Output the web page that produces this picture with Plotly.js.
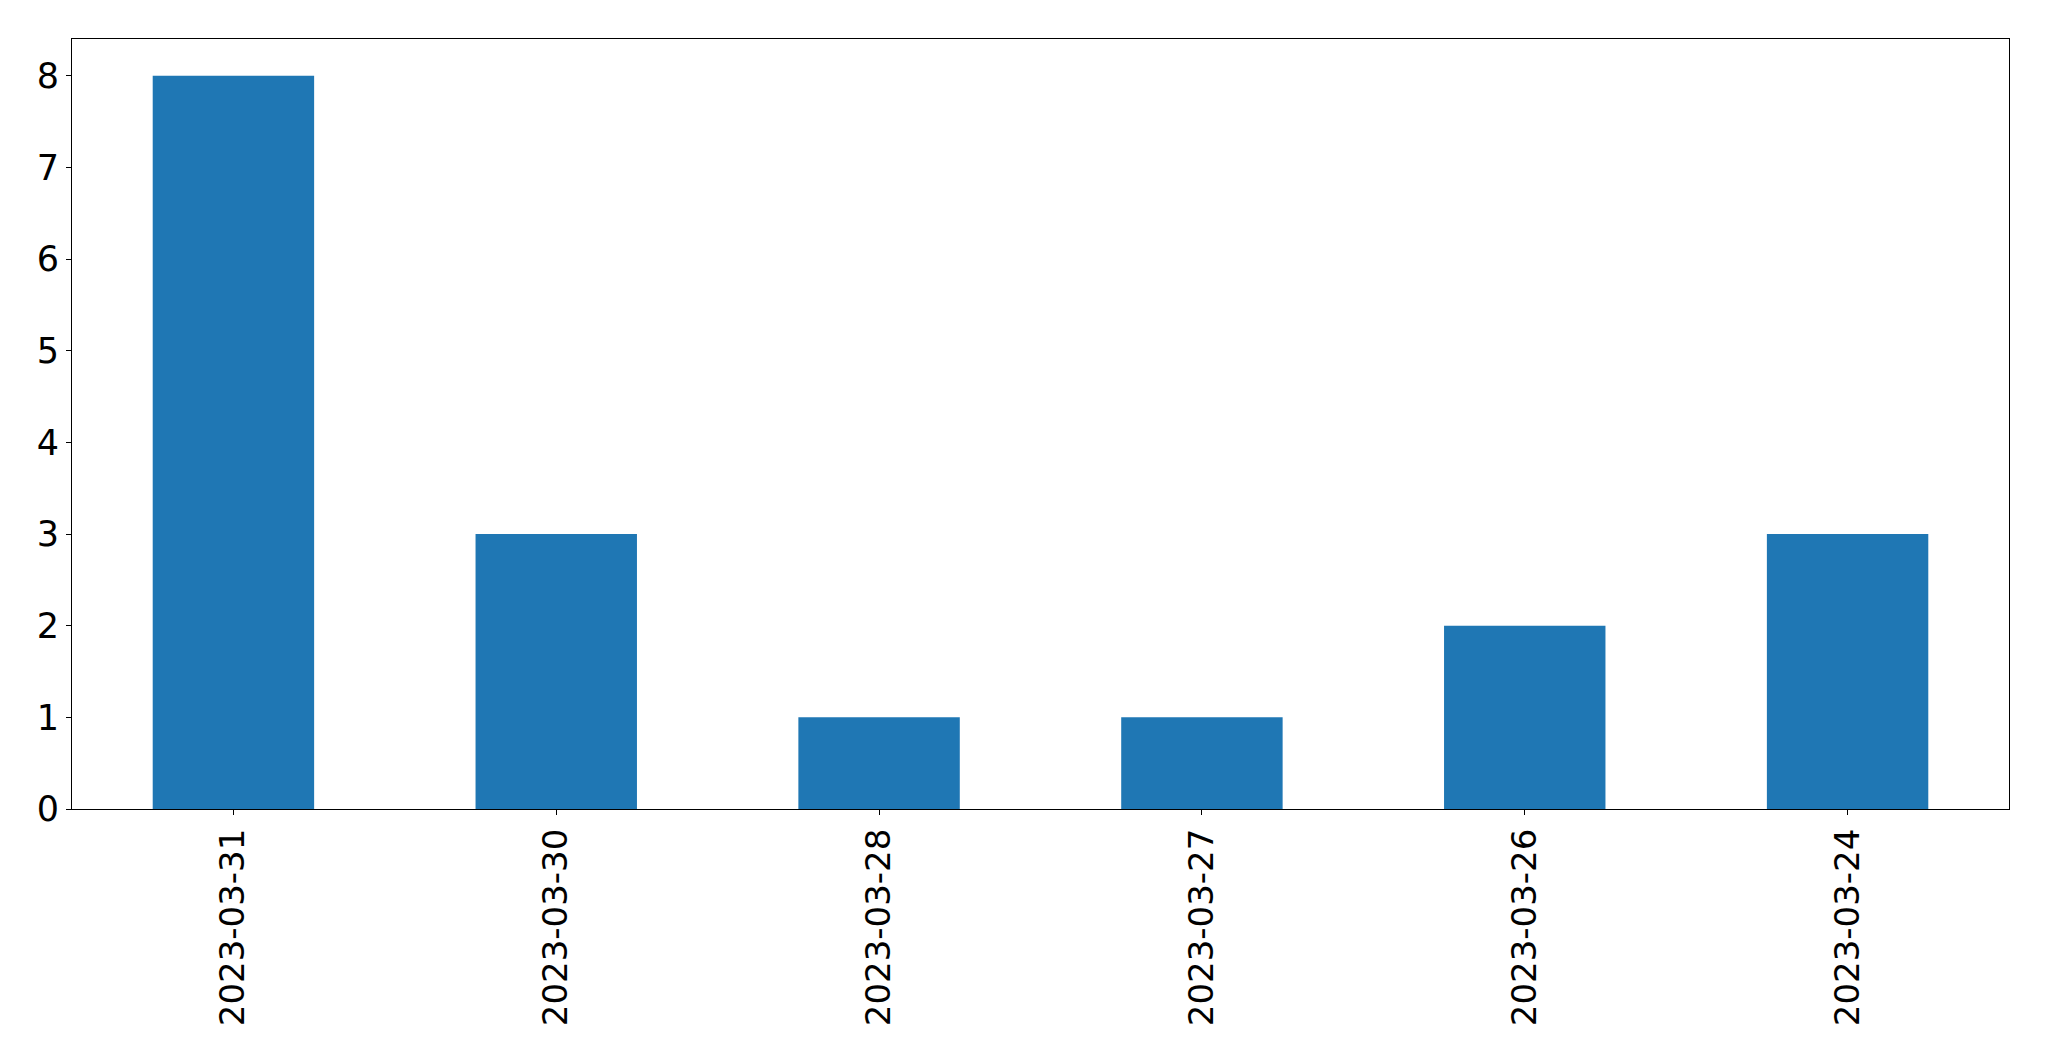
<!DOCTYPE html>
<html>
<head>
<meta charset="utf-8">
<script src="https://cdn.plot.ly/plotly-3.0.1.min.js"></script>
<style>html,body{margin:0;padding:0;background:#fff;}#chart{width:2049px;height:1061px;}</style>
</head>
<body>
<div id="chart"></div>
<script>
const dates = ["2023-03-31", "2023-03-30", "2023-03-28", "2023-03-27", "2023-03-26", "2023-03-24"];
const counts = [8, 3, 1, 1, 2, 3];
const yTicks = [0, 1, 2, 3, 4, 5, 6, 7, 8];

const trace = {
  type: 'bar',
  x: dates,
  y: counts,
  width: 0.5,
  marker: {color: '#1f77b4', line: {width: 0}},
  hoverinfo: 'x+y'
};

const layout = {
  width: 2049,
  height: 1061,
  margin: {l: 72, r: 40, t: 39, b: 252, pad: 0},
  paper_bgcolor: '#ffffff',
  plot_bgcolor: '#ffffff',
  showlegend: false,
  font: {family: 'DejaVu Sans', size: 34, color: '#000000'},
  xaxis: {
    type: 'category',
    range: [-0.5, 5.5],
    tickangle: -90,
    ticks: 'outside',
    ticklen: 5,
    tickwidth: 1.1,
    tickcolor: '#000',
    showline: true,
    linecolor: '#000',
    linewidth: 1.1,
    mirror: true,
    showgrid: false,
    zeroline: false,
    tickfont: {family: 'DejaVu Sans', size: 34, color: '#000'}
  },
  yaxis: {
    range: [0, 8.4],
    tickvals: yTicks,
    ticktext: yTicks.map(String),
    ticks: 'outside',
    ticklen: 5,
    tickwidth: 1.1,
    tickcolor: '#000',
    showline: true,
    linecolor: '#000',
    linewidth: 1.1,
    mirror: true,
    showgrid: false,
    zeroline: false,
    tickfont: {family: 'DejaVu Sans', size: 35, color: '#000'}
  }
};

Plotly.newPlot('chart', [trace], layout, {displayModeBar: false, responsive: false});
</script>
</body>
</html>
